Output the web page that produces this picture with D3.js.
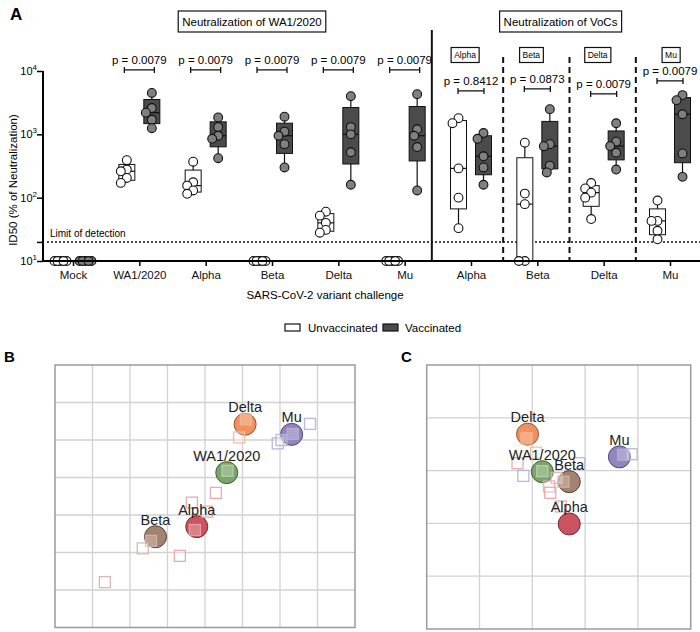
<!DOCTYPE html>
<html>
<head>
<meta charset="utf-8">
<script src="https://cdn.jsdelivr.net/npm/d3@7"></script>
<style>
  body { margin: 0; background: #fff; }
  text { font-family: "Liberation Sans", Arial, Helvetica, sans-serif; }
</style>
</head>
<body>
<div id="chart"></div>
<script>
// ---- panel A data (ID50 titres) ----
var slots = ['Mock', 'WA1/2020', 'Alpha', 'Beta', 'Delta', 'Mu', 'Alpha', 'Beta', 'Delta', 'Mu'];
var unvaccinated = [
  [10, 10, 10, 10, 10],
  [391, 278, 261, 205, 171],
  [370, 175, 155, 130, 115],
  [10, 10, 10, 10, 10],
  [60, 52, 40, 31, 28],
  [10, 10, 10, 10, 10],
  [1800, 1500, 290, 100, 33],
  [738, 116, 79, 10, 10],
  [170, 140, 120, 100, 46],
  [90, 43, 43, 30, 22]
];
var vaccinated = [
  [10, 10, 10, 10, 10],
  [4500, 2600, 2200, 1700, 1250],
  [1850, 1300, 950, 850, 420],
  [1900, 1100, 950, 700, 300],
  [4000, 1300, 1000, 520, 160],
  [4300, 1200, 950, 630, 130],
  [1050, 850, 450, 300, 160],
  [2500, 700, 650, 320, 250],
  [1496, 766, 652, 512, 278],
  [4160, 3467, 2075, 500, 213]
];
var pLabels = [null, 'p = 0.0079', 'p = 0.0079', 'p = 0.0079', 'p = 0.0079', 'p = 0.0079',
               'p = 0.8412', 'p = 0.0873', 'p = 0.0079', 'p = 0.0079'];
var pLevel = [null, 10400, 10400, 10400, 10400, 10400, 4850, 5210, 4350, 6980];
var yTicks = [10, 20, 100, 1000, 10000];
var lod = 20;

// ---- panels B and C: antigenic maps (map units) ----
var variants = ['WA1/2020', 'Alpha', 'Beta', 'Delta', 'Mu'];
var variantColor = {'WA1/2020': '#74a063', 'Alpha': '#c94b57', 'Beta': '#9d7c69', 'Delta': '#f08b56', 'Mu': '#8b80b9'};
var variantStroke = {'WA1/2020': '#3f5e34', 'Alpha': '#6e2a30', 'Beta': '#524035', 'Delta': '#8c5434', 'Mu': '#4d4672'};
var serumColor = {'WA1/2020': '#b9d3ad', 'Alpha': '#e6a3a6', 'Beta': '#d5b1a8', 'Delta': '#f2b895', 'Mu': '#b6aed8'};
var mapB_x = [4.58, 3.78, 2.68, 5.07, 6.31];
var mapB_y = [2.87, 4.31, 4.58, 1.58, 1.85];
var seraB_var = ['Mu', 'Mu', 'Mu', 'Mu', 'Delta', 'Delta', 'WA1/2020', 'Alpha', 'Alpha', 'Alpha', 'Alpha', 'Beta', 'Beta', 'Alpha', 'Beta'];
var seraB_x = [6.8, 5.94, 6.04, 6.34, 5.09, 4.91, 4.6, 4.29, 3.65, 4.05, 3.73, 2.56, 2.34, 3.33, 1.33];
var seraB_y = [1.57, 2.09, 2.0, 1.84, 1.45, 1.93, 2.82, 3.41, 3.67, 3.91, 4.4, 4.69, 4.89, 5.09, 5.79];
var mapC_x = [2.19, 2.70, 2.70, 1.91, 3.65];
var mapC_y = [2.02, 3.01, 2.21, 1.31, 1.74];
var seraC_var = ['Delta', 'Delta', 'Alpha', 'Mu', 'WA1/2020', 'Beta', 'Mu', 'Alpha', 'Alpha', 'Alpha', 'Mu', 'Mu', 'Beta'];
var seraC_x = [1.89, 2.07, 1.72, 1.83, 2.19, 2.46, 2.89, 2.32, 2.34, 2.54, 3.72, 3.88, 2.59];
var seraC_y = [1.39, 1.66, 1.86, 2.10, 2.01, 2.14, 1.86, 2.30, 2.42, 2.68, 1.70, 1.69, 2.21];

var W = 700, H = 632;
var svg = d3.select('#chart').append('svg').attr('width', W).attr('height', H);

// ================= panel A =================
var x = d3.scalePoint().domain(d3.range(slots.length)).range([73, 670]);
var y = d3.scaleLog().domain([10, 10000]).range([261, 71]);
var gA = svg.append('g');

// prism style quartiles: position (n+1)p
function quant(s, p) {
  var pos = (s.length + 1) * p - 1;
  pos = Math.max(0, Math.min(s.length - 1, pos));
  var lo = Math.floor(pos), hi = Math.ceil(pos);
  return s[lo] + (s[hi] - s[lo]) * (pos - lo);
}

// simple swarm so the dots do not sit on top of each other
function swarm(vals) {
  var placed = [];
  var sorted = vals.slice().sort(function(a, b){ return b - a; });
  var cand = [0, -3, 3, -6, 6];
  sorted.forEach(function(v){
    var py = y(v), best = null, bestD = -1;
    for (var i = 0; i < cand.length; i++) {
      var md = Infinity;
      placed.forEach(function(p){ md = Math.min(md, Math.hypot(cand[i] - p.dx, py - p.y)); });
      if (md >= 7) { best = cand[i]; break; }
      if (md > bestD) { bestD = md; best = cand[i]; }
    }
    placed.push({v: v, y: py, dx: best});
  });
  return placed;
}

function drawGroup(vals, cx, vacc) {
  var s = vals.slice().sort(d3.ascending);
  var q1 = quant(s, 0.25), med = quant(s, 0.5), q3 = quant(s, 0.75);
  var bw = 16;
  var g = gA.append('g');
  if (s[0] !== s[s.length - 1]) {
    g.append('line').attr('x1', cx).attr('x2', cx).attr('y1', y(s[0])).attr('y2', y(s[s.length - 1]))
      .attr('stroke', '#111').attr('stroke-width', 1.2);
    g.append('rect').attr('x', cx - bw / 2).attr('width', bw)
      .attr('y', y(q3)).attr('height', Math.max(0, y(q1) - y(q3)))
      .attr('fill', vacc ? '#4b4b4b' : '#fff').attr('stroke', '#111').attr('stroke-width', 1);
    g.append('line').attr('x1', cx - bw / 2).attr('x2', cx + bw / 2).attr('y1', y(med)).attr('y2', y(med))
      .attr('stroke', '#111').attr('stroke-width', 1.2);
  }
  g.selectAll('circle').data(swarm(vals)).enter().append('circle')
    .attr('cx', function(d){ return cx + d.dx; })
    .attr('cy', function(d){ return d.y; })
    .attr('r', 4.4)
    .attr('fill', vacc ? '#808080' : '#fff')
    .attr('stroke', '#111').attr('stroke-width', 1.1);
}

// limit of detection
gA.append('line').attr('x1', 47).attr('x2', 700).attr('y1', y(lod)).attr('y2', y(lod))
  .attr('stroke', '#111').attr('stroke-width', 1.5).attr('stroke-dasharray', '2,2');
gA.append('text').attr('x', 50).attr('y', y(lod) - 5).attr('font-size', 10).text('Limit of detection');

// separators
var sep0 = (x(5) + x(6)) / 2 - 6;
gA.append('line').attr('x1', sep0).attr('x2', sep0).attr('y1', 30).attr('y2', y(10))
  .attr('stroke', '#111').attr('stroke-width', 2);
[6, 7, 8].forEach(function(i){
  var sx = (x(i) + x(i + 1)) / 2 - 1;
  gA.append('line').attr('x1', sx).attr('x2', sx).attr('y1', 57).attr('y2', y(10))
    .attr('stroke', '#111').attr('stroke-width', 2).attr('stroke-dasharray', '6,4');
});

// groups
slots.forEach(function(c, i){
  drawGroup(unvaccinated[i], x(i) - 12.5, false);
  drawGroup(vaccinated[i], x(i) + 12.5, true);
});

// p-value brackets
slots.forEach(function(c, i){
  if (!pLabels[i]) return;
  var half = i < 6 ? 15 : 13, by = y(pLevel[i]);
  gA.append('path')
    .attr('d', 'M' + (x(i) - half) + ',' + (by - 3) + 'V' + (by + 3) + 'M' + (x(i) - half) + ',' + by +
               'H' + (x(i) + half) + 'M' + (x(i) + half) + ',' + (by - 3) + 'V' + (by + 3))
    .attr('stroke', '#111').attr('stroke-width', 1.3).attr('fill', 'none');
  gA.append('text').attr('x', x(i)).attr('y', by - 6).attr('text-anchor', 'middle')
    .attr('font-size', 11.5).text(pLabels[i]);
});

// axes
var yAxis = d3.axisLeft(y).tickValues(yTicks).tickSize(6).tickFormat('');
var ya = gA.append('g').attr('transform', 'translate(43,0)').call(yAxis);
ya.select('.domain').attr('stroke-width', 2).attr('d', 'M0,' + y(10000) + 'V' + y(10));
ya.selectAll('.tick line').attr('stroke-width', 1.5);
yTicks.forEach(function(t){
  if (t === lod) return;
  var tx = gA.append('text').attr('x', 37).attr('y', y(t) + 4).attr('text-anchor', 'end').attr('font-size', 11);
  tx.append('tspan').text('10');
  tx.append('tspan').attr('font-size', 8).attr('dy', -5).text(Math.round(Math.log10(t)));
});
var xAxis = d3.axisBottom(x).tickSize(5).tickFormat(function(i){ return slots[i]; });
var xa = gA.append('g').attr('transform', 'translate(0,' + y(10) + ')').call(xAxis);
xa.select('.domain').attr('stroke-width', 2).attr('d', 'M43,0H700');
xa.selectAll('.tick line').attr('stroke-width', 1.5);
xa.selectAll('.tick text').attr('font-size', 11.5).attr('fill', '#111').attr('dy', '0.9em')
  .style('font-family', '"Liberation Sans", Arial, sans-serif');

gA.append('text').attr('x', 325).attr('y', 299).attr('text-anchor', 'middle').attr('font-size', 11.5)
  .text('SARS-CoV-2 variant challenge');
gA.append('text').attr('transform', 'translate(17,180) rotate(-90)').attr('text-anchor', 'middle')
  .attr('font-size', 11.5).text('ID50 (% of Neutralization)');

// header boxes
function labelBox(cx, cy, txt, fs, padX, h) {
  var t = gA.append('text').attr('x', cx).attr('y', cy + fs * 0.36).attr('text-anchor', 'middle')
    .attr('font-size', fs).text(txt);
  var bb = t.node().getBBox();
  gA.insert('rect', 'text').attr('x', bb.x - padX).attr('y', cy - h / 2).attr('width', bb.width + 2 * padX)
    .attr('height', h).attr('fill', '#fff').attr('stroke', '#111').attr('stroke-width', 1.2);
}
labelBox(252, 21.5, 'Neutralization of WA1/2020', 11.5, 4, 21);
labelBox(560.5, 21.5, 'Neutralization of VoCs', 11.5, 4, 21);
[6, 7, 8, 9].forEach(function(i){
  labelBox(x(i) - (i < 9 ? 6 : -1), 55, slots[i], 8.5, 3, 15);
});

svg.append('text').attr('x', 10).attr('y', 20).attr('font-size', 17).attr('font-weight', 'bold').text('A');

// legend
var lg = svg.append('g');
lg.append('rect').attr('x', 285).attr('y', 324).attr('width', 15).attr('height', 7)
  .attr('fill', '#fff').attr('stroke', '#111').attr('stroke-width', 1.2);
lg.append('text').attr('x', 308).attr('y', 332).attr('font-size', 11.5).text('Unvaccinated');
lg.append('rect').attr('x', 383).attr('y', 324).attr('width', 15).attr('height', 7)
  .attr('fill', '#4b4b4b').attr('stroke', '#111').attr('stroke-width', 1.2);
lg.append('text').attr('x', 405).attr('y', 332).attr('font-size', 11.5).text('Vaccinated');

// ================= panels B, C =================
function antigenicMap(x0, y0, w, h, nx, ny, px, py, sv, sx, sy, letter, lx) {
  var mx = d3.scaleLinear().domain([0, nx]).range([x0, x0 + w]);
  var my = d3.scaleLinear().domain([0, ny]).range([y0, y0 + h]);
  var g = svg.append('g');
  g.append('g').selectAll('line.v').data(d3.range(1, nx)).enter().append('line')
    .attr('x1', mx).attr('x2', mx).attr('y1', y0).attr('y2', y0 + h)
    .attr('stroke', '#d2d2d2').attr('stroke-width', 1.3);
  g.append('g').selectAll('line.h').data(d3.range(1, ny)).enter().append('line')
    .attr('y1', my).attr('y2', my).attr('x1', x0).attr('x2', x0 + w)
    .attr('stroke', '#d2d2d2').attr('stroke-width', 1.3);
  g.append('rect').attr('x', x0).attr('y', y0).attr('width', w).attr('height', h)
    .attr('fill', 'none').attr('stroke', '#9a9a9a').attr('stroke-width', 1.5);

  var ag = variants.map(function(v, i){ return {name: v, x: px[i], y: py[i]}; });
  g.selectAll('circle').data(ag).enter().append('circle')
    .attr('cx', function(d){ return mx(d.x); }).attr('cy', function(d){ return my(d.y); })
    .attr('r', 11)
    .attr('fill', function(d){ return variantColor[d.name]; })
    .attr('stroke', function(d){ return variantStroke[d.name]; }).attr('stroke-width', 1)
    .attr('fill-opacity', 0.95);

  var sera = sv.map(function(v, i){ return {name: v, x: sx[i], y: sy[i]}; });
  g.selectAll('rect.serum').data(sera).enter().append('rect').attr('class', 'serum')
    .attr('x', function(d){ return mx(d.x) - 5.5; }).attr('y', function(d){ return my(d.y) - 5.5; })
    .attr('width', 11).attr('height', 11)
    .attr('fill', '#fff').attr('fill-opacity', 0.25)
    .attr('stroke', function(d){ return serumColor[d.name]; }).attr('stroke-width', 1.3)
    .attr('stroke-opacity', 0.9);

  g.selectAll('text.lab').data(ag).enter().append('text').attr('class', 'lab')
    .attr('x', function(d){ return mx(d.x); }).attr('y', function(d){ return my(d.y) - 12; })
    .attr('text-anchor', 'middle').attr('font-size', 14.5).attr('fill', '#222')
    .text(function(d){ return d.name; });

  svg.append('text').attr('x', lx).attr('y', 362).attr('font-size', 15).attr('font-weight', 'bold')
    .text(letter);
}
antigenicMap(55, 365, 300, 262.5, 8, 7, mapB_x, mapB_y, seraB_var, seraB_x, seraB_y, 'B', 4);
antigenicMap(426.7, 365, 264, 264, 5, 5, mapC_x, mapC_y, seraC_var, seraC_x, seraC_y, 'C', 401);
</script>
</body>
</html>
